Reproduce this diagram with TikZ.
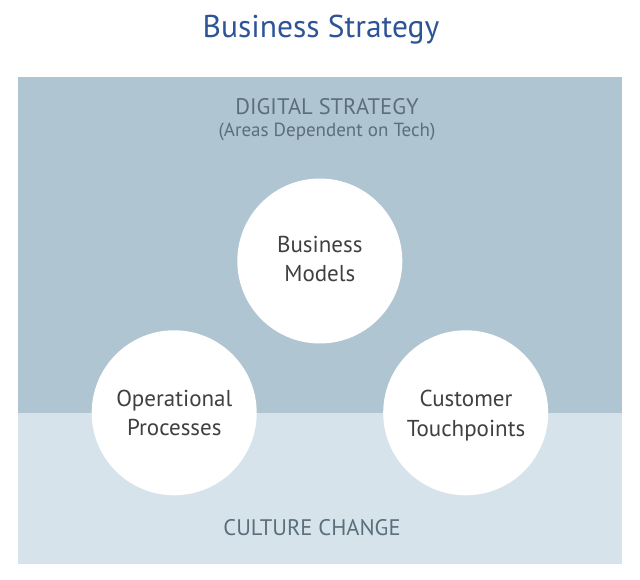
\documentclass[tikz,border=0pt]{standalone}
\usepackage{fontspec}
\setmainfont{PT Sans}
\definecolor{titleblue}{HTML}{2D5496}
\definecolor{topband}{HTML}{AFC5D2}
\definecolor{botband}{HTML}{D6E3EB}
\definecolor{labelgray}{HTML}{5B6E7B}
\definecolor{circtext}{HTML}{404040}
\tikzset{
  bubble/.style={circle, fill=white, minimum size=165pt, inner sep=0pt},
  bubbletext/.style={align=center, inner sep=0pt, text=circtext,
    font=\fontsize{23}{29.5}\selectfont},
  bandlabel/.style={text=labelgray, align=center, inner sep=0pt, anchor=base},
}
\newcommand{\twolines}[2]{\strut #1\\\strut #2}
\begin{document}
\begin{tikzpicture}[x=1pt,y=-1pt]
\useasboundingbox (0,0) rectangle (640,580);
\fill[white] (0,0) rectangle (640,580);
\fill[topband] (18,77) rectangle (622,412.5);
\fill[botband] (18,412.5) rectangle (622,564);
\node[text=titleblue, font=\fontsize{31.5}{36}\selectfont, inner sep=0pt, anchor=base] (title) at (321,37.3) {Business Strategy};
\node[bandlabel, font=\fontsize{22.5}{26}\selectfont] (digital) at (327,115) {DIGITAL STRATEGY};
\node[bandlabel, font=\fontsize{19}{22}\selectfont] (areas) at (327,137) {(Areas Dependent on Tech)};
\node[bubble] (bm) at (319.8,261) {};
\node[bubble] (op) at (174.2,412.8) {};
\node[bubble] (ct) at (465.7,412.8) {};
\node[bubbletext] (bmtext) at (319.8,261.15) {\twolines{Business}{Models}};
\node[bubbletext] (optext) at (174.3,414.85) {\twolines{Operational}{Processes}};
\node[bubbletext] (cttext) at (466,415.5) {\twolines{Customer}{Touchpoints}};
\node[bandlabel, font=\fontsize{22.5}{26}\selectfont] (culture) at (312,535.7) {CULTURE CHANGE};
\end{tikzpicture}
\end{document}
